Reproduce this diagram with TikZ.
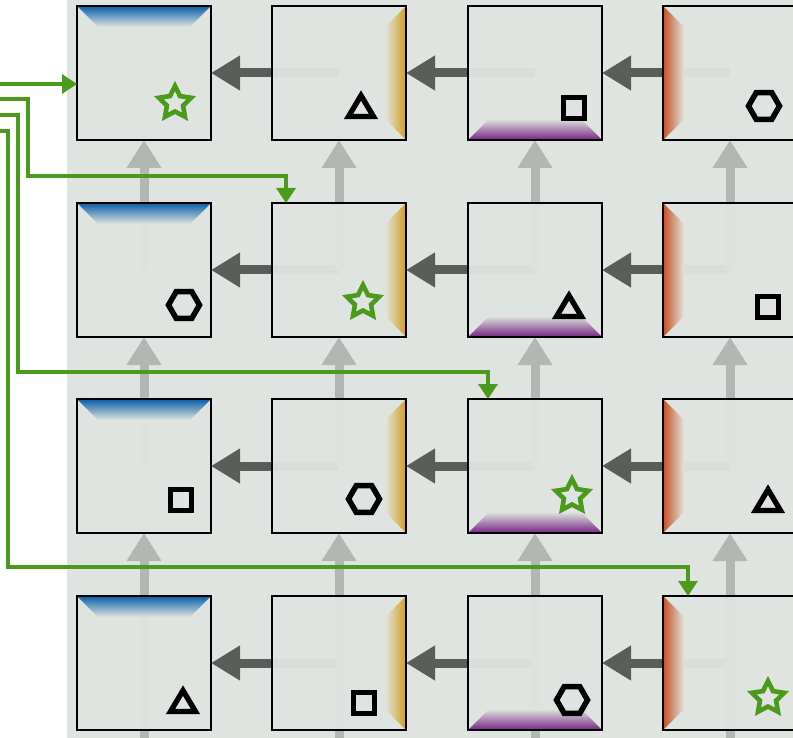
\documentclass[tikz,border=0pt]{standalone}
\usetikzlibrary{arrows.meta,calc}
\definecolor{bgc}{HTML}{E0E4E0}
\definecolor{hcol}{HTML}{5A5E5A}
\definecolor{vcol}{HTML}{B3B7B3}
\definecolor{gcol}{HTML}{4C9A1C}
\definecolor{bluec}{HTML}{1566AC}
\definecolor{goldc}{HTML}{D4A12A}
\definecolor{purc}{HTML}{7A2E88}
\definecolor{orc}{HTML}{C8582A}
\tikzset{
  cell/.style={minimum size=134pt,inner sep=0pt,outer sep=0pt},
  boxline/.style={draw=black,line width=2.4pt,fill=bgc,fill opacity=0.96},
  harrow/.style={draw=hcol,line width=9pt,-{Triangle[length=29pt,width=33pt]}},
  varrow/.style={draw=vcol,line width=9pt,-{Triangle[length=28pt,width=33pt]}},
  vline/.style={draw=vcol,line width=9pt},
  garrow/.style={draw=gcol,line width=3.4pt,line join=miter,-{Triangle[length=15pt,width=19pt]}},
  glyph/.style={draw=black,line width=5.3pt,line join=miter},
  pics/tri/.style={code={\draw[glyph] (0,11.5pt) -- (-12.5pt,-9.5pt) -- (12.5pt,-9.5pt) -- cycle;}},
  pics/sqr/.style={code={\draw[glyph,line width=5.5pt] (-10.5pt,-10.5pt) rectangle (10.5pt,10.5pt);}},
  pics/hexa/.style={code={\draw[glyph,line width=5.5pt] (0:15.5pt) -- (60:15.5pt) -- (120:15.5pt) -- (180:15.5pt) -- (240:15.5pt) -- (300:15.5pt) -- cycle;}},
  pics/starg/.style={code={\draw[draw=gcol,line width=4.6pt,line join=miter]
     (90:17pt) -- (126:8.5pt) -- (162:17pt) -- (198:8.5pt) -- (234:17pt) -- (270:8.5pt)
     -- (306:17pt) -- (342:8.5pt) -- (18:17pt) -- (54:8.5pt) -- cycle;}}
}
\begin{document}
\begin{tikzpicture}[x=1pt,y=-1pt]
\useasboundingbox (0,0) rectangle (793,738);
\clip (0,0) rectangle (793,738);
\fill[bgc] (67,-10) rectangle (900,800);
% cells
\foreach \r/\y in {1/73,2/270,3/466,4/663}{
  \foreach \c/\x in {1/144,2/339,3/535,4/730}{
    \node[cell] (r\r c\c) at (\x,\y) {};
  }
}
\foreach \c/\x in {1/144,2/339,3/535,4/730}{ \coordinate (r5c\c) at (\x,860); }
% horizontal connectors
\foreach \r in {1,...,4}{
  \draw[harrow] (r\r c2.center) -- (r\r c1.east);
  \draw[harrow] (r\r c3.center) -- (r\r c2.east);
  \draw[harrow] (r\r c4.center) -- (r\r c3.east);
}
% vertical connectors
\foreach \c in {1,...,4}{
  \draw[varrow] (r2c\c.center) -- (r1c\c.south);
  \draw[varrow] (r3c\c.center) -- (r2c\c.south);
  \draw[varrow] (r4c\c.center) -- (r3c\c.south);
  \draw[vline] (r4c\c.center) -- (r5c\c);
}
% boxes
\foreach \r in {1,...,4}{
  \foreach \c in {1,...,4}{
    \draw[boxline] (r\r c\c.north west) rectangle (r\r c\c.south east);
  }
  \shade[top color=bluec,bottom color=bgc] ($(r\r c1.north west)+(1.2,1.2)$) -- ($(r\r c1.north east)+(-1.2,1.2)$) -- ($(r\r c1.north east)+(-21,21)$) -- ($(r\r c1.north west)+(21,21)$) -- cycle;
  \shade[left color=bgc,right color=goldc] ($(r\r c2.north east)+(-1.2,1.2)$) -- ($(r\r c2.south east)+(-1.2,-1.2)$) -- ($(r\r c2.south east)+(-21,-21)$) -- ($(r\r c2.north east)+(-21,21)$) -- cycle;
  \shade[top color=bgc,bottom color=purc] ($(r\r c3.south west)+(1.2,-1.2)$) -- ($(r\r c3.south east)+(-1.2,-1.2)$) -- ($(r\r c3.south east)+(-21,-21)$) -- ($(r\r c3.south west)+(21,-21)$) -- cycle;
  \shade[left color=orc,right color=bgc] ($(r\r c4.north west)+(1.2,1.2)$) -- ($(r\r c4.south west)+(1.2,-1.2)$) -- ($(r\r c4.south west)+(21,-21)$) -- ($(r\r c4.north west)+(21,21)$) -- cycle;
}
% glyphs
\pic at (175,103) {starg};
\pic at (361,107) {tri};
\pic at (574,108) {sqr};
\pic at (764,106) {hexa};
\pic at (184,305) {hexa};
\pic at (363,302) {starg};
\pic at (569,307) {tri};
\pic at (768,307) {sqr};
\pic at (181,500) {sqr};
\pic at (364,499) {hexa};
\pic at (572,496) {starg};
\pic at (768,501) {tri};
\pic at (183,702) {tri};
\pic at (364,703) {sqr};
\pic at (572,700) {hexa};
\pic at (768,698) {starg};
% green connectors
\coordinate (g1) at (0,84);
\coordinate (g2) at (0,99);
\coordinate (g3) at (0,115);
\coordinate (g4) at (0,131);
\draw[garrow] (g1) -- (g1 -| r1c1.west);
\draw[garrow] (g2) -- (28,99) -- (28,176) -- (286,176) -- ($(r2c2.north)+(-53,0)$);
\draw[garrow] (g3) -- (18,115) -- (18,372) -- (488,372) -- ($(r3c3.north)+(-47,0)$);
\draw[garrow] (g4) -- (8,131) -- (8,567) -- (688,567) -- ($(r4c4.north)+(-42,0)$);
\end{tikzpicture}
\end{document}
